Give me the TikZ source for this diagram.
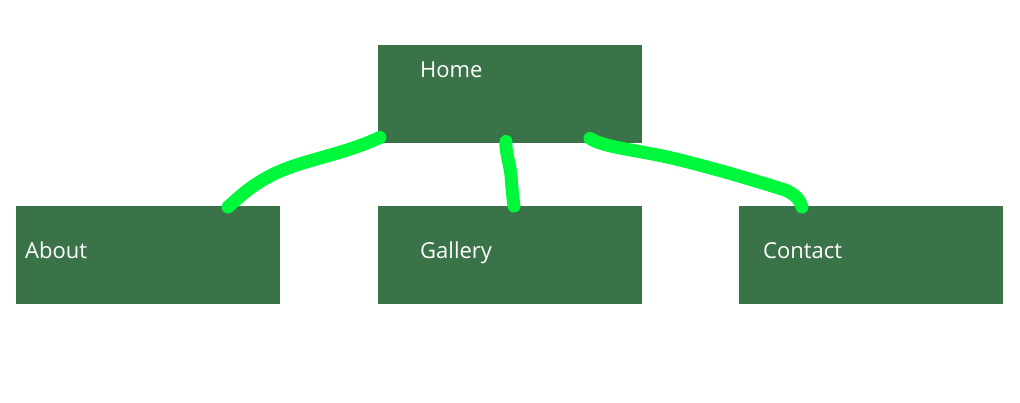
\documentclass[tikz,border=0pt]{standalone}
\usepackage{fontspec}
\setmainfont{Open Sans}
\usetikzlibrary{calc}
\definecolor{boxgreen}{HTML}{3B7349}
\definecolor{linegreen}{HTML}{00F83C}
\tikzset{
  pagebox/.style={fill=boxgreen, draw=none, minimum width=264pt, minimum height=98pt, inner sep=0pt, anchor=north west},
  pagelabel/.style={text=white, font=\fontsize{22}{25}\selectfont, anchor=base west, inner sep=0pt},
  link/.style={draw=linegreen, line width=13pt, line cap=round, line join=round}
}
\begin{document}
\begin{tikzpicture}[x=1pt,y=-1pt]
\useasboundingbox (0,0) rectangle (1020,402);
\node[pagebox] (home) at (378,45) {};
\node[pagebox] (about) at (16,206) {};
\node[pagebox] (gallery) at (378,206) {};
\node[pagebox] (contact) at (739,206) {};
\node[pagelabel] (homet) at (420,77) {Home};
\node[pagelabel] (aboutt) at (25,258) {About};
\node[pagelabel] (galleryt) at (420,258) {Gallery};
\node[pagelabel] (contactt) at (763,258) {Contact};
\coordinate (h1) at ($(home.south west)+(2,-6)$);
\coordinate (h2) at ($(home.south west)+(128,-2)$);
\coordinate (h3) at ($(home.south west)+(212,-5)$);
\coordinate (a1) at ($(about.north west)+(212,1)$);
\coordinate (g1) at ($(gallery.north west)+(136,0)$);
\coordinate (c1) at ($(contact.north west)+(63,1)$);
\draw[link] (h1) .. controls (340,156) and (300,160) .. (270,176) .. controls (250,186) and (236,200) .. (a1);
\draw[link] (h2) .. controls (505,150) and (510,165) .. (511,175) .. controls (512,190) and (513,198) .. (g1);
\draw[link] (h3) .. controls (605,148) and (640,150) .. (680,160) .. controls (720,170) and (760,182) .. (785,190) .. controls (795,194) and (800,200) .. (c1);
\end{tikzpicture}
\end{document}
